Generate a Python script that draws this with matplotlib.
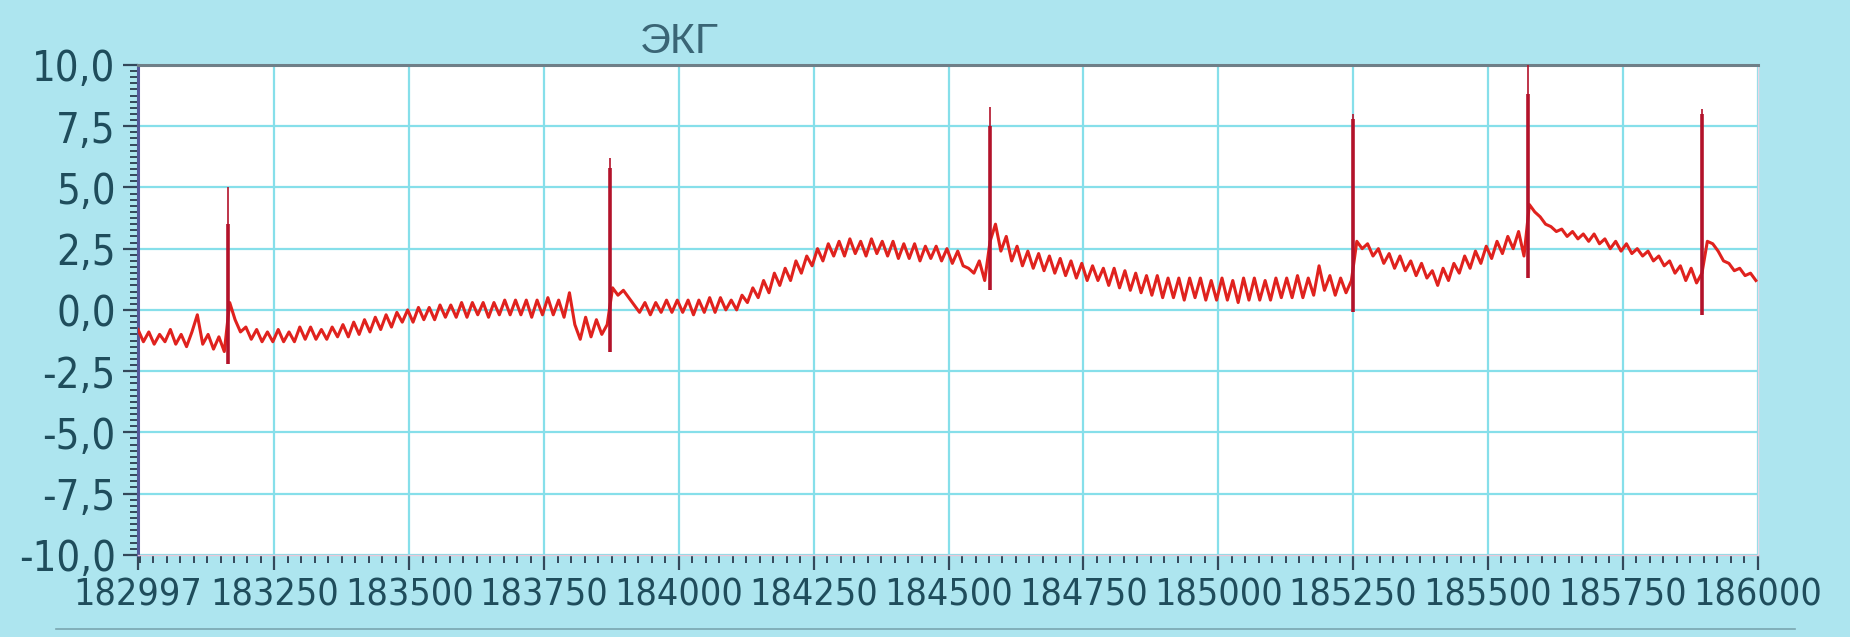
"""ЭКГ trace, recreated from a screen photo of a monitoring program."""

import matplotlib

matplotlib.use("Agg")
import matplotlib.pyplot as plt  # noqa: E402
import numpy as np  # noqa: E402
from matplotlib import font_manager  # noqa: E402
from matplotlib.ticker import FuncFormatter, MultipleLocator  # noqa: E402

BG = "#ade5ef"
GRID = "#86dfea"
TICK_TXT = "#1f4d5c"
TRACE = "#e0221e"
SPIKE = "#b3122a"

# sampled trace: one value every SAMPLE_STEP units, starting at SAMPLE_START
SAMPLE_START = 182997
SAMPLE_STEP = 10
ecg = [
    -0.8, -1.3, -0.9, -1.4, -1.0, -1.3, -0.8, -1.4, -1.0, -1.5,
    -0.9, -0.2, -1.4, -1.0, -1.6, -1.1, -1.7, 0.3, -0.4, -0.9,
    -0.7, -1.2, -0.8, -1.3, -0.9, -1.3, -0.8, -1.3, -0.9, -1.3,
    -0.7, -1.2, -0.7, -1.2, -0.8, -1.2, -0.7, -1.1, -0.6, -1.1,
    -0.5, -1.0, -0.4, -0.9, -0.3, -0.8, -0.2, -0.7, -0.1, -0.5,
    0.0, -0.5, 0.1, -0.4, 0.1, -0.4, 0.2, -0.3, 0.2, -0.3,
    0.3, -0.3, 0.3, -0.2, 0.3, -0.3, 0.3, -0.2, 0.4, -0.2,
    0.4, -0.2, 0.4, -0.3, 0.4, -0.2, 0.5, -0.2, 0.4, -0.3,
    0.7, -0.6, -1.2, -0.3, -1.1, -0.4, -1.0, -0.6, 0.9, 0.6,
    0.8, 0.5, 0.2, -0.1, 0.3, -0.2, 0.3, -0.1, 0.4, -0.1,
    0.4, -0.1, 0.4, -0.2, 0.4, -0.1, 0.5, -0.1, 0.5, 0.0,
    0.4, 0.0, 0.6, 0.3, 0.9, 0.5, 1.2, 0.7, 1.5, 1.0,
    1.7, 1.2, 2.0, 1.5, 2.2, 1.8, 2.5, 2.0, 2.7, 2.2,
    2.8, 2.2, 2.9, 2.3, 2.8, 2.2, 2.9, 2.3, 2.8, 2.2,
    2.8, 2.1, 2.7, 2.1, 2.7, 2.0, 2.6, 2.1, 2.6, 2.0,
    2.5, 1.9, 2.4, 1.8, 1.7, 1.5, 2.0, 1.2, 2.8, 3.5,
    2.4, 3.0, 2.0, 2.6, 1.8, 2.4, 1.7, 2.3, 1.6, 2.2,
    1.5, 2.1, 1.4, 2.0, 1.3, 1.9, 1.2, 1.8, 1.2, 1.7,
    1.0, 1.7, 0.9, 1.6, 0.8, 1.5, 0.7, 1.4, 0.6, 1.4,
    0.5, 1.3, 0.5, 1.3, 0.4, 1.3, 0.5, 1.3, 0.4, 1.2,
    0.4, 1.3, 0.4, 1.2, 0.3, 1.3, 0.4, 1.3, 0.4, 1.2,
    0.4, 1.3, 0.5, 1.3, 0.5, 1.4, 0.5, 1.3, 0.6, 1.8,
    0.8, 1.4, 0.6, 1.3, 0.7, 1.2, 2.8, 2.5, 2.7, 2.2,
    2.5, 1.9, 2.3, 1.7, 2.2, 1.6, 2.0, 1.4, 1.9, 1.3,
    1.6, 1.0, 1.7, 1.2, 1.9, 1.5, 2.2, 1.7, 2.4, 1.9,
    2.6, 2.1, 2.8, 2.3, 3.0, 2.5, 3.2, 2.2, 4.3, 4.0,
    3.8, 3.5, 3.4, 3.2, 3.3, 3.0, 3.2, 2.9, 3.1, 2.8,
    3.1, 2.7, 2.9, 2.5, 2.8, 2.4, 2.7, 2.3, 2.5, 2.2,
    2.4, 2.0, 2.2, 1.8, 2.0, 1.5, 1.8, 1.2, 1.7, 1.1,
    1.5, 2.8, 2.7, 2.4, 2.0, 1.9, 1.6, 1.7, 1.4, 1.5,
    1.2,
]

# QRS complexes: position, R amplitude, thin tip, deepest point
qrs_x = [183163, 183872, 184576, 185250, 185575, 185897]
qrs_r = [3.5, 5.8, 7.5, 7.8, 8.8, 8.0]
qrs_top = [5.0, 6.2, 8.3, 8.0, 10.0, 8.2]
qrs_bottom = [-2.2, -1.7, 0.8, -0.1, 1.3, -0.2]

x_ticks = [182997, 183250, 183500, 183750, 184000, 184250, 184500,
           184750, 185000, 185250, 185500, 185750, 186000]
y_ticks = [-10.0, -7.5, -5.0, -2.5, 0.0, 2.5, 5.0, 7.5, 10.0]

# the screen font is a narrow one; use a condensed face if one is installed
_narrow = [f for f in font_manager.fontManager.ttflist
           if f.stretch in ("condensed", "semi-condensed", "extra-condensed")
           or "Narrow" in f.name or "Condensed" in f.name]
if _narrow:
    X_FONT = dict(family=[_narrow[0].name, "DejaVu Sans"], stretch=_narrow[0].stretch, size=27)
    Y_FONT = dict(X_FONT, size=30)
else:
    X_FONT = dict(family=["DejaVu Sans"], size=23)
    Y_FONT = dict(X_FONT, size=25)

fig = plt.figure(figsize=(18.5, 6.37), dpi=100, facecolor=BG)
ax = fig.add_axes([0.0746, 0.129, 0.8754, 0.769])
ax.set_facecolor("white")

t = SAMPLE_START + SAMPLE_STEP * np.arange(len(ecg))
ax.plot(t, ecg, color=TRACE, linewidth=2.2, zorder=3)
ax.vlines(qrs_x, qrs_bottom, qrs_top, color=SPIKE, linewidth=1.2, zorder=4)
ax.vlines(qrs_x, qrs_bottom, qrs_r, color=SPIKE, linewidth=2.6, zorder=4)

ax.set_xlim(182997, 186000)
ax.set_ylim(-10, 10)
ax.set_xticks(x_ticks)
ax.set_yticks(y_ticks)
ax.xaxis.set_minor_locator(MultipleLocator(25))
ax.yaxis.set_minor_locator(MultipleLocator(0.25))
ax.yaxis.set_major_formatter(FuncFormatter(lambda v, _: f"{v:.1f}".replace(".", ",")))
ax.xaxis.set_major_formatter(FuncFormatter(lambda v, _: f"{int(v)}"))

ax.grid(which="major", color=GRID, linewidth=1.6)
ax.set_axisbelow(True)

ax.tick_params(which="major", direction="out", length=11, width=1.6, color="#33485a",
               labelcolor=TICK_TXT, pad=5)
ax.tick_params(which="minor", direction="out", length=6, width=1.4, color="#33485a")
for lab in ax.get_xticklabels():
    lab.set(**X_FONT)
for lab in ax.get_yticklabels():
    lab.set(**Y_FONT)

ax.spines["left"].set_color("#55589a")
ax.spines["left"].set_linewidth(2.2)
ax.spines["top"].set_color("#6f7f88")
ax.spines["top"].set_linewidth(2.2)
ax.spines["right"].set_color("#e9d6e4")
ax.spines["right"].set_linewidth(1.0)
ax.spines["bottom"].set_color("#e9c8d8")
ax.spines["bottom"].set_linewidth(1.0)

fig.text(0.367, 0.934, "ЭКГ", ha="center", va="center", fontsize=31,
         color="#3a6575", family=["Liberation Sans", "DejaVu Sans"])
# panel frame line under the tick labels
fig.add_artist(plt.Line2D([0.03, 0.97], [0.012, 0.012], color="#7aa6b0", linewidth=1.2))

fig.savefig("out.png", dpi=100, facecolor=BG)
